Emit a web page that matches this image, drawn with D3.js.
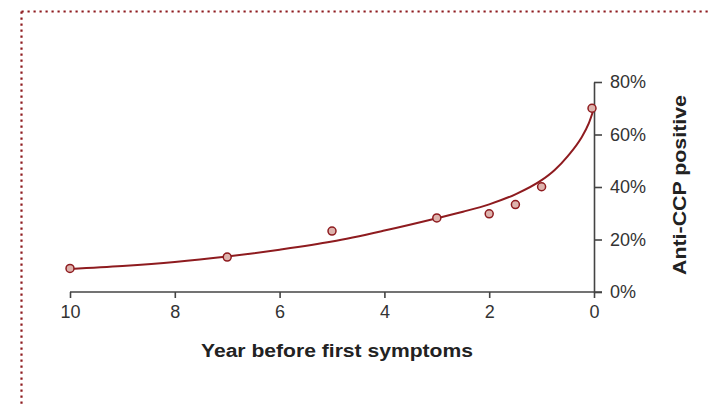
<!DOCTYPE html>
<html><head><meta charset="utf-8">
<script src="https://cdn.jsdelivr.net/npm/d3@7"></script>
<style>body{margin:0;background:#fff}svg{display:block}</style>
</head><body>
<svg id="c" width="711" height="407"></svg>
<script>
// Observed data points (years before symptoms, % anti-CCP positive)
const pointYears = [10, 7, 5, 3, 2, 1.5, 1, 0];
const pointValues = [9.0, 13.3, 23.2, 28.2, 29.8, 33.3, 40.1, 70.0];
// Fitted curve
const curveYears = [10, 9, 8, 7, 6, 5, 4, 3, 2.5, 2, 1.5, 1, 0.75, 0.5, 0.25, 0.1, 0];
const curveValues = [8.8, 9.9, 11.4, 13.5, 16.1, 19.2, 23.4, 28.1, 30.6, 33.4, 37.2, 42.6, 46.5, 51.8, 58.5, 64.2, 70.0];
const xTicks = [10, 8, 6, 4, 2, 0];
const yTicks = [0, 20, 40, 60, 80];
const xTitle = "Year before first symptoms";
const yTitle = "Anti-CCP positive";

const svg = d3.select("#c");
const red = "#8e1b1f";
const axisCol = "#444";
const font = "'Liberation Sans', Arial, Helvetica, sans-serif";

// dotted frame
svg.append("line").attr("x1", 21.5).attr("x2", 711).attr("y1", 11.5).attr("y2", 11.5)
  .attr("stroke", red).attr("stroke-width", 2.2).attr("stroke-dasharray", "2.2,3.8");
svg.append("line").attr("x1", 21.5).attr("x2", 21.5).attr("y1", 11.5).attr("y2", 407)
  .attr("stroke", red).attr("stroke-width", 2.2).attr("stroke-dasharray", "2.2,3.8");

const x = d3.scaleLinear().domain([10, 0]).range([70, 594]);
const y = d3.scaleLinear().domain([0, 80]).range([292, 82]);

// x axis
const xa = svg.append("g").attr("transform", "translate(0,292)")
  .call(d3.axisBottom(x).tickValues(xTicks).tickSize(6).tickSizeOuter(0).tickPadding(7).tickFormat(d3.format("d")));
xa.select(".domain").attr("stroke", axisCol).attr("stroke-width", 1.6)
  .attr("d", `M${x(10)},0H${x(0) + 8}`);
xa.selectAll(".tick line").attr("stroke", axisCol).attr("stroke-width", 1.6);
xa.selectAll(".tick text").attr("font-family", font).attr("font-size", 18).attr("fill", "#333");

// y axis
const ya = svg.append("g").attr("transform", "translate(594,0)")
  .call(d3.axisRight(y).tickValues(yTicks).tickSize(8).tickSizeOuter(0).tickPadding(8).tickFormat(d => d + "%"));
ya.select(".domain").attr("stroke", axisCol).attr("stroke-width", 1.6);
ya.selectAll(".tick line").attr("stroke", axisCol).attr("stroke-width", 1.6);
ya.selectAll(".tick text").attr("font-family", font).attr("font-size", 18).attr("fill", "#333");

// curve
const curveData = curveYears.map((d, i) => ({ x: d, y: curveValues[i] }));
svg.append("path").datum(curveData)
  .attr("fill", "none").attr("stroke", red).attr("stroke-width", 2)
  .attr("d", d3.line().x(d => x(d.x)).y(d => y(d.y)).curve(d3.curveMonotoneX));

// points
svg.append("g").selectAll("circle").data(pointYears.map((d, i) => ({ x: d, y: pointValues[i] })))
  .join("circle")
  .attr("cx", d => x(d.x) - (d.x === 0 ? 2 : 0)).attr("cy", d => y(d.y)).attr("r", 4)
  .attr("fill", "#ddb3ad").attr("stroke", red).attr("stroke-width", 1.5);

// titles
svg.append("text").attr("x", 337).attr("y", 357).attr("text-anchor", "middle")
  .attr("font-family", font).attr("font-weight", "bold").attr("font-size", 17.5).attr("fill", "#222")
  .attr("textLength", 272).attr("lengthAdjust", "spacingAndGlyphs")
  .text(xTitle);
svg.append("text").attr("transform", "translate(686,185) rotate(-90)").attr("text-anchor", "middle")
  .attr("font-family", font).attr("font-weight", "bold").attr("font-size", 18.5).attr("fill", "#222")
  .attr("textLength", 180).attr("lengthAdjust", "spacingAndGlyphs")
  .text(yTitle);
</script>
</body></html>
